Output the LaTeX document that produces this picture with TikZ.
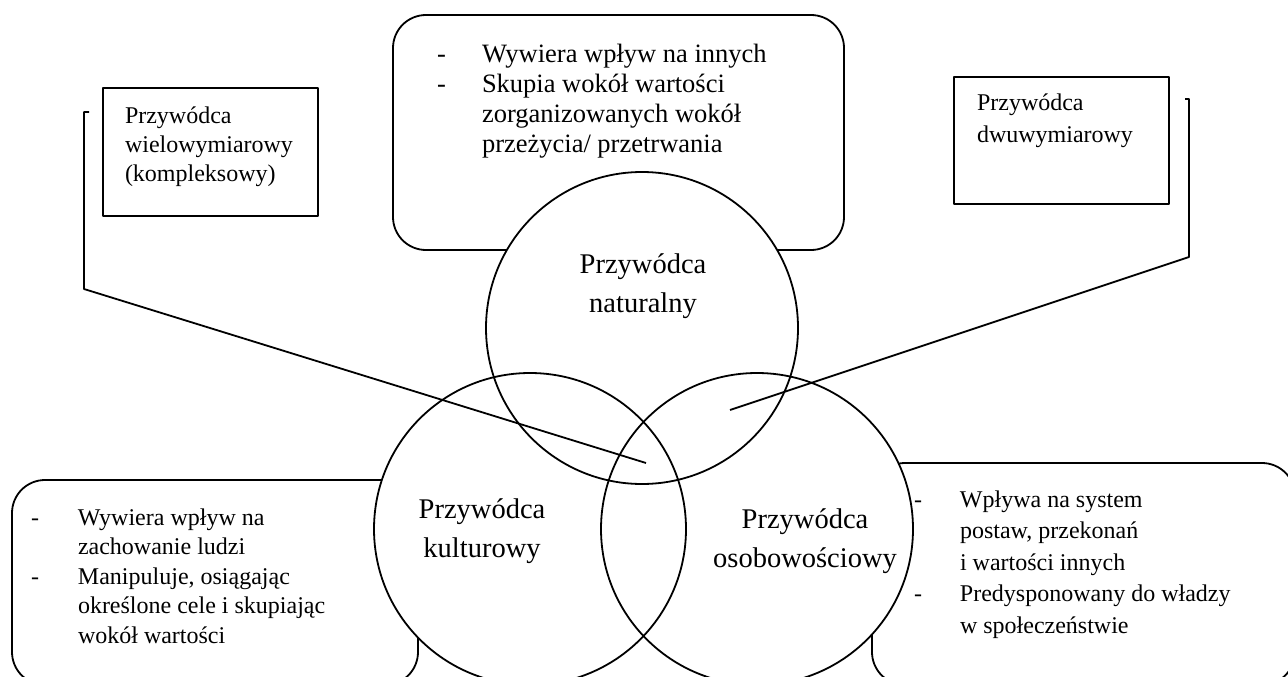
\documentclass[tikz,border=0pt]{standalone}
\usepackage{fontspec}
\setmainfont{Liberation Serif}
\begin{document}
\begin{tikzpicture}[x=1pt,y=-1pt,
  every node/.style={inner sep=0pt, outer sep=0pt},
  pen/.style={line width=1.8pt, line join=round},
  roundbox/.style={pen, draw, rounded corners=33pt, anchor=north west},
  plainbox/.style={pen, draw, anchor=north west},
  ring/.style={pen, draw, circle, minimum size=312pt},
  % multi-line nodes: the base anchor sits on the last line
  boxtext/.style={anchor=base west, align=left},
  ringtext/.style={anchor=base, align=center, font=\fontsize{28.5}{39}\selectfont},
  link/.style={pen}
]
\useasboundingbox (0,0) rectangle (1288,677);
\clip (0,0) rectangle (1288,677);

% rounded description boxes
\node[roundbox, minimum width=451pt, minimum height=235pt] (topbox) at (393,15) {};
\node[roundbox, minimum width=406pt, minimum height=205pt] (leftbox) at (12,480) {};
\node[roundbox, minimum width=423pt, minimum height=222pt] (rightbox) at (872,463) {};

% plain label boxes
\node[plainbox, minimum width=215pt, minimum height=128pt] (multi) at (103,88) {};
\node[plainbox, minimum width=215pt, minimum height=127pt] (dual) at (954,77) {};

% box texts
\node[boxtext, font=\fontsize{26.5}{30}\selectfont] (toptext) at (437,152)
  {\makebox[45pt][l]{-}Wywiera wpływ na innych\\
   \makebox[45pt][l]{-}Skupia wokół wartości\\
   \hspace*{45pt}zorganizowanych wokół\\
   \hspace*{45pt}przeżycia/ przetrwania};
\node[boxtext, font=\fontsize{24}{29.5}\selectfont] (lefttext) at (31,643)
  {\makebox[47pt][l]{-}Wywiera wpływ na\\
   \hspace*{47pt}zachowanie ludzi\\
   \makebox[47pt][l]{-}Manipuluje, osiągając\\
   \hspace*{47pt}określone cele i skupiając\\
   \hspace*{47pt}wokół wartości};
\node[boxtext, font=\fontsize{24}{31.5}\selectfont] (righttext) at (914,633)
  {\makebox[46pt][l]{-}Wpływa na system\\
   \hspace*{46pt}postaw, przekonań\\
   \hspace*{46pt}i wartości innych\\
   \makebox[46pt][l]{-}Predysponowany do władzy\\
   \hspace*{46pt}w społeczeństwie};
\node[boxtext, font=\fontsize{24}{29}\selectfont] (multitext) at (125,181)
  {Przywódca\\wielowymiarowy\\(kompleksowy)};
\node[boxtext, font=\fontsize{24}{32}\selectfont] (dualtext) at (977,142)
  {Przywódca\\dwuwymiarowy};

% circle centres
\coordinate (cn) at (642,328);
\coordinate (ck) at (530,529);
\coordinate (co) at (757,529);

% white discs first, so every outline stays visible
\fill[white] (cn) circle[radius=156pt];
\fill[white] (ck) circle[radius=156pt];
\fill[white] (co) circle[radius=156pt];

\node[ring] (natural) at (cn) {};
\node[ring] (cultural) at (ck) {};
\node[ring] (personal) at (co) {};

\node[ringtext] (naturaltext) at (643,312) {Przywódca\\naturalny};
\node[ringtext] (culturaltext) at (482,557) {Przywódca\\kulturowy};
\node[ringtext] (personaltext) at (805,567) {Przywódca\\osobowościowy};

% bracket connectors
\coordinate (mtick) at (89,112);
\coordinate (mtop) at (84,112);
\coordinate (mbend) at (84,289);
\coordinate (mend) at (646,463);
\draw[link] (mtick) -- (mtop) -- (mbend) -- (mend);

\coordinate (dtick) at (1185,99);
\coordinate (dtop) at (1189,99);
\coordinate (dbend) at (1189,257);
\coordinate (dend) at (730,410);
\draw[link] (dtick) -- (dtop) -- (dbend) -- (dend);
\end{tikzpicture}
\end{document}
